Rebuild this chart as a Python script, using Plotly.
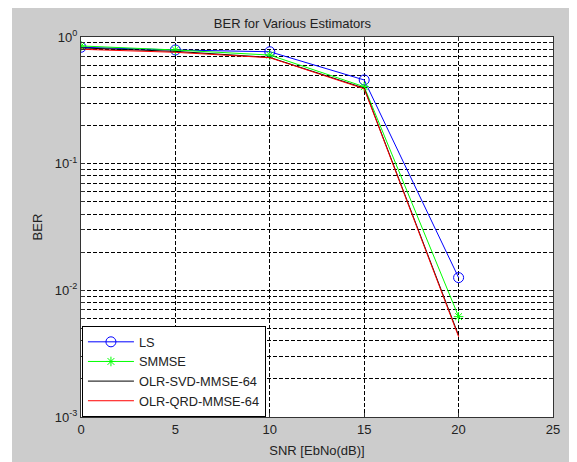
import plotly.graph_objects as go

snr = [0, 5, 10, 15, 20]
ber_ls = [0.83, 0.79, 0.765, 0.458, 0.0126]
ber_smmse = [0.85, 0.79, 0.72, 0.405, 0.0062]
ber_svd = [0.82, 0.77, 0.69, 0.395, 0.0044]
ber_qrd = [0.80, 0.757, 0.686, 0.39, 0.0043]

x_ticks = [0, 5, 10, 15, 20, 25]
decades = [-3, -2, -1, 0]

y_tickvals = []
y_ticktext = []
for k in decades:
    for m in range(1, 10):
        if k == 0 and m > 1:
            break
        y_tickvals.append(m * 10 ** k)
        y_ticktext.append(f"10<sup>{k}</sup>" if m == 1 else "")

FONT = "Arial, Liberation Sans, sans-serif"
TXT = "#222222"

fig = go.Figure()
fig.add_trace(go.Scatter(x=snr, y=ber_ls, name="LS", mode="lines+markers",
                         line=dict(color="#0000ff", width=1),
                         marker=dict(symbol="circle-open", size=10, color="#0000ff", line=dict(width=1))))
fig.add_trace(go.Scatter(x=snr, y=ber_smmse, name="SMMSE", mode="lines+markers",
                         line=dict(color="#00ff00", width=1),
                         marker=dict(symbol="asterisk-open", size=8, color="#00ff00", line=dict(width=1, color="#00ff00"))))
fig.add_trace(go.Scatter(x=snr, y=ber_svd, name="OLR-SVD-MMSE-64", mode="lines",
                         line=dict(color="#000000", width=1)))
fig.add_trace(go.Scatter(x=snr, y=ber_qrd, name="OLR-QRD-MMSE-64", mode="lines",
                         line=dict(color="#ff0000", width=1)))

# the page puts the figure 8px in from the top-left corner
W, H = 569, 454
L, R, T, B = 73, 24, 29, 45
pw, ph = W - L - R, H - T - B

def px(xp):
    return (xp - L) / pw

def py(yp):
    return (H - B - yp) / ph

fig.update_layout(
    width=W, height=H,
    margin=dict(l=L, r=R, t=T, b=B, autoexpand=False),
    paper_bgcolor="#cccccc",
    plot_bgcolor="#ffffff",
    font=dict(family=FONT, size=12, color=TXT),
    title=dict(text="BER for Various Estimators", x=px(309), xanchor="center",
               y=1 - 15 / H, yanchor="middle", font=dict(size=13, color=TXT)),
    showlegend=True,
    legend=dict(x=0.002, y=0, xanchor="left", yanchor="bottom",
                bgcolor="#ffffff", bordercolor="#000000", borderwidth=1,
                font=dict(size=12.8, color=TXT), tracegroupgap=0,
                itemwidth=46, entrywidth=148, entrywidthmode="pixels"),
    xaxis=dict(range=[0, 25], tickvals=x_ticks, ticks="inside", ticklen=4,
               tickcolor="#333333", showline=True, linecolor="#333333", linewidth=1,
               mirror="ticks", showgrid=True, gridcolor="#000000", griddash="4px,2px",
               gridwidth=1, zeroline=False, automargin=False,
               title=dict(text="SNR [EbNo(dB)]", standoff=10, font=dict(size=13, color=TXT)),
               tickfont=dict(size=13, color=TXT)),
    yaxis=dict(type="log", range=[-3, 0], tickvals=y_tickvals, ticktext=y_ticktext,
               ticks="inside", ticklen=4, tickcolor="#333333", showline=True,
               linecolor="#333333", linewidth=1, mirror="ticks", showgrid=True,
               gridcolor="#000000", griddash="4px,2px", gridwidth=1, zeroline=False,
               automargin=False,
               title=dict(text="BER", standoff=9, font=dict(size=13, color=TXT)),
               tickfont=dict(size=13, color=TXT)),
    shapes=[
        dict(type="rect", xref="paper", yref="paper", x0=px(0), x1=px(4),
             y0=py(H), y1=py(0), fillcolor="#ffffff", line=dict(width=0), layer="below"),
    ],
)

fig.write_html("out.html")
